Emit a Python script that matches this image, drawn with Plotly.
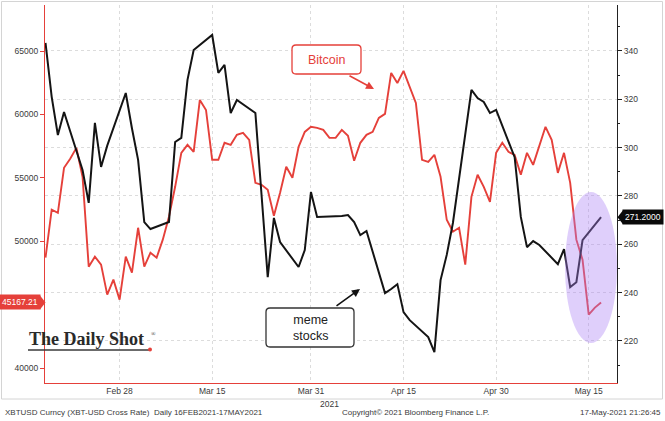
import plotly.graph_objects as go
import pandas as pd

# ---------------- data ----------------
btc_dates = pd.date_range("2021-02-16", "2021-05-17", freq="D").strftime("%Y-%m-%d").tolist()
btc_values = [
    48700, 52480, 52240, 55790, 56500, 57360, 55080, 47990, 48780, 48150,
    45790, 46970, 45390, 48780, 47520, 51060, 47990, 49090, 48700, 50120,
    51930, 54290, 56970, 57600, 57050, 61140, 60350, 56420, 56420, 57760,
    57600, 58390, 58540, 57990, 54600, 54450, 54050, 52000, 53820, 55870,
    55000, 57440, 58620, 59020, 58940, 58780, 58150, 58150, 58780, 58310,
    56340, 57760, 58390, 58620, 59720, 60040, 63270, 62480, 63430, 62170,
    60910, 56420, 56260, 56810, 55080, 51690, 50750, 51060, 48150, 53500,
    55240, 54290, 53110, 56970, 57760, 57050, 56810, 55240, 56970, 56020,
    57600, 59020, 57990, 55390, 56970, 54600, 50120, 48540, 44210, 44760,
    45167.21,
]

meme_dates = [
    "2021-02-16", "2021-02-17", "2021-02-18", "2021-02-19",
    "2021-02-22", "2021-02-23", "2021-02-24", "2021-02-25", "2021-02-26",
    "2021-03-01", "2021-03-02", "2021-03-03", "2021-03-04", "2021-03-05",
    "2021-03-08", "2021-03-09", "2021-03-10", "2021-03-11", "2021-03-12",
    "2021-03-15", "2021-03-16", "2021-03-17", "2021-03-18", "2021-03-19",
    "2021-03-22", "2021-03-23", "2021-03-24", "2021-03-25", "2021-03-26",
    "2021-03-29", "2021-03-30", "2021-03-31", "2021-04-01",
    "2021-04-05", "2021-04-06", "2021-04-07", "2021-04-08", "2021-04-09",
    "2021-04-12", "2021-04-13", "2021-04-14", "2021-04-15", "2021-04-16",
    "2021-04-19", "2021-04-20", "2021-04-21", "2021-04-22", "2021-04-23",
    "2021-04-26", "2021-04-27", "2021-04-28", "2021-04-29", "2021-04-30",
    "2021-05-03", "2021-05-04", "2021-05-05", "2021-05-06", "2021-05-07",
    "2021-05-10", "2021-05-11", "2021-05-12", "2021-05-13", "2021-05-14",
    "2021-05-17",
]
meme_values = [
    343.3, 321.0, 305.2, 314.7,
    290.7, 277.1, 310.2, 292.0, 300.8,
    322.6, 308.0, 294.9, 269.2, 266.3,
    269.2, 302.3, 304.0, 328.0, 340.4,
    346.6, 330.9, 334.2, 314.3, 319.7,
    314.3, 280.4, 246.4, 270.9, 260.9,
    250.6, 257.6, 281.6, 271.3,
    271.7, 272.1, 269.2, 263.8, 265.5,
    239.8, 241.5, 243.5, 231.9, 228.6,
    221.6, 215.4, 245.2, 255.6, 268.8,
    323.9, 320.5, 318.9, 314.3, 315.6,
    296.0, 271.3, 258.8, 261.3, 259.7,
    251.8, 258.0, 242.3, 244.3, 261.7,
    271.2,
]

x_tick_dates = ["2021-02-28", "2021-03-15", "2021-03-31", "2021-04-15", "2021-04-30", "2021-05-15"]
x_tick_text = ["Feb 28", "Mar 15", "Mar 31", "Apr 15", "Apr 30", "May 15"]
left_ticks = [40000, 50000, 55000, 60000, 65000]
left_tick_text = ["40000", "50000", "55000", "60000", "65000"]
right_ticks = [220, 240, 260, 280, 300, 320, 340]

# ---------------- layout helpers ----------------
W, H = 665, 421
L, R, T, B = 45, 48, 5, 38
PW, PH = W - L - R, H - T - B


def px(x):
    return (x - L) / PW


def py(y):
    return (H - B - y) / PH


RED = "#e5403a"
BLACK = "#141414"
TXT = "#3a3a3a"
FONT = "Liberation Sans"

fig = go.Figure()
fig.add_trace(go.Scatter(x=btc_dates, y=btc_values, mode="lines",
                         line=dict(color=RED, width=1.9), yaxis="y", hoverinfo="skip"))
fig.add_trace(go.Scatter(x=meme_dates, y=meme_values, mode="lines",
                         line=dict(color=BLACK, width=2), yaxis="y2", hoverinfo="skip"))

shapes = []
annotations = []


def note(x, y, text, font, xanchor="center", yanchor="middle", **kw):
    d = dict(xref="paper", yref="paper", x=px(x), y=py(y), text=text, showarrow=False,
             font=font, xanchor=xanchor, yanchor=yanchor)
    d.update(kw)
    annotations.append(d)


def rounded_rect(x0, y0, x1, y1, r, color, width):
    rx = r / PW
    ry = r / PH
    X0, X1 = px(x0), px(x1)
    Y0, Y1 = py(y1), py(y0)
    path = (f"M {X0+rx},{Y1} L {X1-rx},{Y1} Q {X1},{Y1} {X1},{Y1-ry} "
            f"L {X1},{Y0+ry} Q {X1},{Y0} {X1-rx},{Y0} L {X0+rx},{Y0} "
            f"Q {X0},{Y0} {X0},{Y0+ry} L {X0},{Y1-ry} Q {X0},{Y1} {X0+rx},{Y1} Z")
    return dict(type="path", xref="paper", yref="paper", path=path,
                line=dict(color=color, width=width), fillcolor="white", layer="above")


# outer frame
shapes.append(dict(type="rect", xref="paper", yref="paper",
                   x0=px(1.5), x1=px(662.5), y0=py(399), y1=py(1.5),
                   line=dict(color="#d4d4d4", width=1), layer="below"))

# purple highlight ellipse
shapes.append(dict(type="circle", xref="paper", yref="paper",
                   x0=px(565), x1=px(617), y0=py(343), y1=py(192),
                   fillcolor="rgba(172,128,245,0.38)", line=dict(width=0), layer="above"))

# Bitcoin label box + arrow
shapes.append(rounded_rect(292, 45, 361, 74, 4, RED, 1.3))
note(326.5, 59.5, "Bitcoin", dict(family=FONT, size=12.5, color=RED))
annotations.append(dict(xref="paper", yref="paper", x=px(374), y=py(89), text="", showarrow=True,
                        ax=-26, ay=-14, arrowhead=2, arrowsize=1, arrowwidth=1.6, arrowcolor=RED))

# meme stocks label box + arrow
shapes.append(rounded_rect(266, 308, 354, 347, 4, "#333333", 1.3))
note(310, 327.5, "meme<br>stocks", dict(family=FONT, size=12.5, color="#222222"))
annotations.append(dict(xref="paper", yref="paper", x=px(360), y=py(289), text="", showarrow=True,
                        ax=-25, ay=18, arrowhead=2, arrowsize=1, arrowwidth=1.6, arrowcolor="#111111"))

# last-value tags
tag_h = 7 * 78.9
shapes.append(dict(type="path", xref="paper", yref="y",
                   path=f"M {px(40)},{45167.21 - tag_h} L {px(45.5)},{45167.21} L {px(40)},{45167.21 + tag_h} Z",
                   fillcolor=RED, line=dict(width=0), layer="above"))
annotations.append(dict(xref="paper", yref="y", x=px(41), y=45167.21, xanchor="right", yanchor="middle",
                        text="45167.21", showarrow=False, bgcolor=RED, borderpad=2,
                        font=dict(family=FONT, size=8.5, color="white")))
tag_h2 = 7 * 0.4138
shapes.append(dict(type="path", xref="paper", yref="y2",
                   path=f"M {px(623)},{271.2 - tag_h2} L {px(617.5)},{271.2} L {px(623)},{271.2 + tag_h2} Z",
                   fillcolor="#0a0a0a", line=dict(width=0), layer="above"))
annotations.append(dict(xref="paper", yref="y2", x=px(622), y=271.2, xanchor="left", yanchor="middle",
                        text="271.2000", showarrow=False, bgcolor="#0a0a0a", borderpad=2,
                        font=dict(family=FONT, size=8.5, color="white")))

# The Daily Shot logo
note(27, 339, "<b>The Daily Shot</b>", dict(family="Liberation Serif", size=18, color="#2a2a2a"), xanchor="left")
note(149, 334, "®", dict(family="Liberation Serif", size=6, color="#2a2a2a"), xanchor="left")
shapes.append(dict(type="line", xref="paper", yref="paper", x0=px(28), x1=px(149), y0=py(350), y1=py(350),
                   line=dict(color="#3a3a3a", width=1.3), layer="above"))
shapes.append(dict(type="circle", xref="paper", yref="paper", x0=px(148), x1=px(152), y0=py(351.5), y1=py(347.5),
                   fillcolor=RED, line=dict(width=0), layer="above"))

# year label and footer
note(329, 404, "2021", dict(family=FONT, size=8.5, color=TXT))
footer_font = dict(family=FONT, size=8, color=TXT)
note(3, 412, "XBTUSD Curncy (XBT-USD Cross Rate)&nbsp;&nbsp;Daily 16FEB2021-17MAY2021", footer_font, xanchor="left")
note(340, 412, "Copyright© 2021 Bloomberg Finance L.P.", footer_font, xanchor="left")
note(663, 412, "17-May-2021 21:26:45", footer_font, xanchor="right")

tickfont = dict(family=FONT, size=8.5, color=TXT)

fig.update_layout(
    width=W, height=H, autosize=False,
    margin=dict(l=L, r=R, t=T, b=B, pad=0),
    paper_bgcolor="white", plot_bgcolor="white",
    showlegend=False,
    xaxis=dict(type="date", range=["2021-02-15 22:00", "2021-05-19 14:00"],
               tickmode="array", tickvals=x_tick_dates, ticktext=x_tick_text,
               showgrid=True, gridcolor="#dcdcdc", griddash="dot", gridwidth=1,
               showline=True, linecolor=RED, linewidth=1.2, ticks="", tickfont=tickfont,
               zeroline=False),
    yaxis=dict(range=[38817, 68628], tickmode="array", tickvals=left_ticks, ticktext=left_tick_text,
               showgrid=False, zeroline=False, showline=True, linecolor=RED, linewidth=1.2,
               ticks="outside", ticklen=4, tickcolor=RED, tickfont=tickfont),
    yaxis2=dict(range=[202.6, 359.0], overlaying="y", side="right", tickmode="array",
                tickvals=right_ticks, showgrid=True, gridcolor="#dcdcdc", griddash="dot",
                zeroline=False, showline=True, linecolor="#222222", linewidth=1.2,
                ticks="outside", ticklen=4, tickcolor="#222222", tickfont=tickfont,
                minor=dict(dtick=10, tick0=200, ticks="outside", ticklen=2, tickcolor="#222222", showgrid=False)),
    shapes=shapes,
    annotations=annotations,
)

fig.write_html("out.html")
